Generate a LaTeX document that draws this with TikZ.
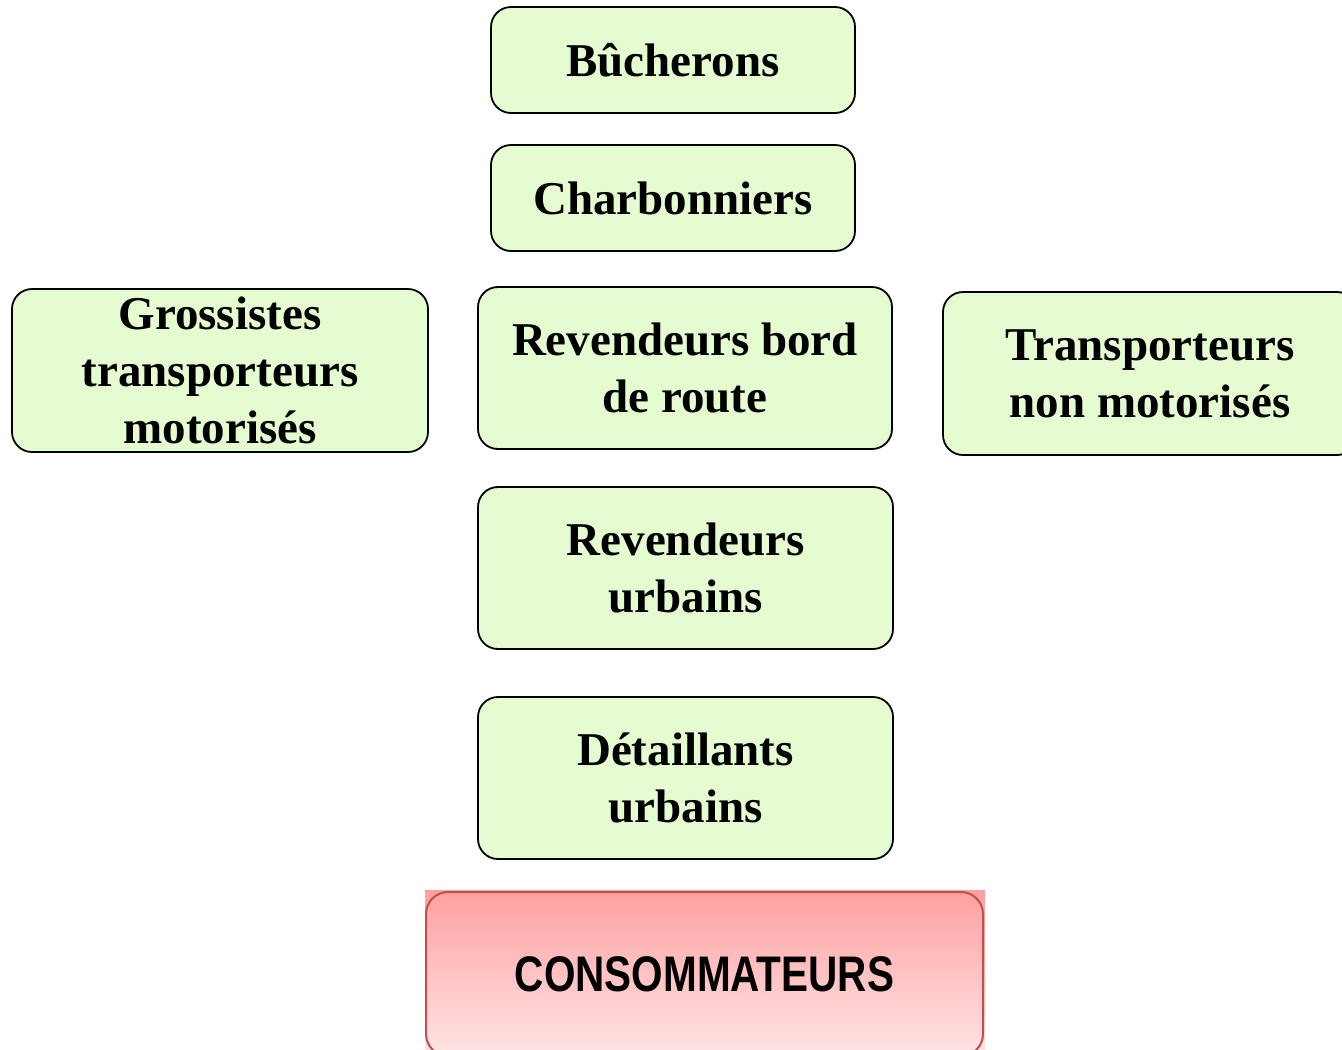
\documentclass[tikz,border=0pt]{standalone}
\usepackage{fontspec}
\setmainfont{Liberation Serif}
\newfontfamily\consofont[FakeStretch=0.81]{Liberation Sans}
\usetikzlibrary{shadings}
\definecolor{boxgreen}{HTML}{E4FCD0}
\definecolor{consotop}{HTML}{FFA0A0}
\definecolor{consomid}{HTML}{FFB8B8}
\definecolor{consobot}{HTML}{FFE2E2}
\definecolor{consoline}{HTML}{C0504D}
\tikzset{
	box/.style={draw=black, line width=1.8pt, fill=boxgreen, rounded corners=20pt,
		align=center, inner sep=0pt, font=\fontsize{47}{57}\selectfont\bfseries},
	consobox/.style={draw=consoline, line width=2pt, rounded corners=22pt,
		inner sep=0pt, font=\fontsize{50}{56}\selectfont\consofont\bfseries}
}
\begin{document}
\begin{tikzpicture}[x=1pt, y=-1pt]
		%%%%% START %%%%%
		\clip (0, 0) rectangle (1342, 1050);
		\fill[white] (0, 0) rectangle (1342, 1050);
		
		\node[box, minimum width=364pt, minimum height=106pt] (buch) at (673, 60) {Bûcherons};
		\node[box, minimum width=364pt, minimum height=106pt] (charb) at (673, 198) {Charbonniers};
		
		\node[box, minimum width=416pt, minimum height=163pt] (gross) at (220, 370.5) {Grossistes\\transporteurs\\motorisés};
		\node[box, minimum width=414pt, minimum height=162pt] (bord) at (685, 368) {Revendeurs bord\\de route};
		\node[box, minimum width=414pt, minimum height=163pt] (transp) at (1150, 373.5) {Transporteurs\\non motorisés};
		
		\node[box, minimum width=415pt, minimum height=162pt] (urb) at (685.5, 568) {Revendeurs\\urbains};
		\node[box, minimum width=415pt, minimum height=162pt] (detail) at (685.5, 778) {Détaillants\\urbains};
		
		\shade[top color=consotop, middle color=consomid, bottom color=consobot] (425, 890) rectangle (985, 1050);
		\node[consobox, minimum width=557pt, minimum height=164pt] (conso) at (704.5, 974) {CONSOMMATEURS};
		
		%%%%% END %%%%%
	\end{tikzpicture}
\end{document}
